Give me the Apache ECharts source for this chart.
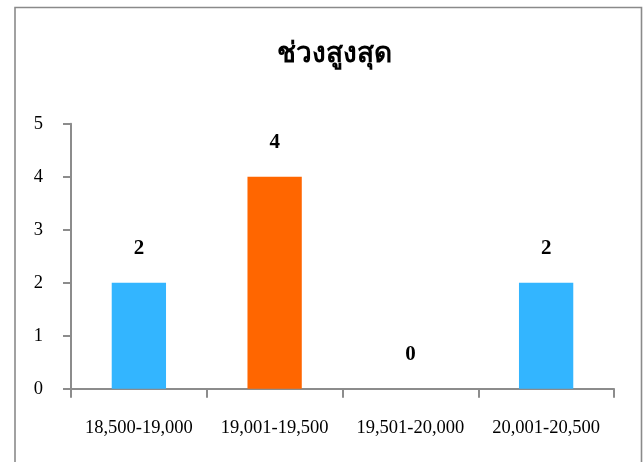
<!DOCTYPE html>
<html>
<head>
<meta charset="utf-8">
<script src="https://cdn.jsdelivr.net/npm/echarts@6/dist/echarts.min.js"></script>
<style>html,body{margin:0;padding:0;background:#fff}#c{width:644px;height:462px}</style>
</head>
<body>
<div id="c"></div>
<script>
const titleText = 'ช่วงสูงสุด';
const categories = ['18,500-19,000', '19,001-19,500', '19,501-20,000', '20,001-20,500'];
const values = [2, 4, 0, 2];
const barColors = ['#33B5FF', '#FF6600', '#33B5FF', '#33B5FF'];
const yTicks = [0, 1, 2, 3, 4, 5];

const serif = '"Liberation Serif", "Times New Roman", serif';
const chart = echarts.init(document.getElementById('c'), null, {renderer: 'canvas'});
chart.setOption({
  backgroundColor: '#fff',
  animation: false,
  title: {
    text: titleText,
    left: 329, top: 36, textAlign: 'center',
    textStyle: {fontFamily: serif, fontWeight: 'bold', fontSize: 28, color: '#000'}
  },
  graphic: [{
    type: 'polyline',
    shape: {points: [[15, 470], [15, 7.5], [641.5, 7.5], [641.5, 470]]},
    style: {stroke: '#8a8a8a', lineWidth: 1.6, fill: null},
    silent: true
  }],
  grid: {left: 71, right: 30, top: 123.7, bottom: 73.3, containLabel: false},
  xAxis: {
    type: 'category',
    data: categories,
    axisLine: {lineStyle: {color: '#8c8c8c', width: 2}},
    axisTick: {show: true, alignWithLabel: false, length: 9, lineStyle: {color: '#8c8c8c', width: 2}},
    axisLabel: {margin: 30, fontFamily: serif, fontSize: 18.5, color: '#000', interval: 0}
  },
  yAxis: {
    type: 'value',
    min: yTicks[0], max: yTicks[yTicks.length - 1], interval: 1,
    splitLine: {show: false},
    axisLine: {show: true, lineStyle: {color: '#8c8c8c', width: 2}},
    axisTick: {show: true, length: 8, lineStyle: {color: '#8c8c8c', width: 2}},
    axisLabel: {margin: 28, fontFamily: serif, fontSize: 18.5, color: '#000'}
  },
  series: [{
    type: 'bar',
    data: values.map((v, i) => ({value: v, itemStyle: {color: barColors[i]}})),
    barWidth: '40%',
    label: {
      show: true, position: 'top', distance: 24,
      fontFamily: serif, fontWeight: 'bold', fontSize: 21, color: '#000'
    }
  }]
});
</script>
</body>
</html>
